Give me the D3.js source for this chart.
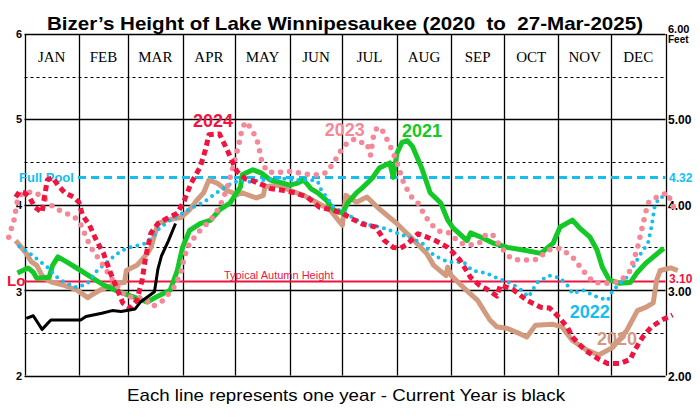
<!DOCTYPE html>
<html><head><meta charset="utf-8">
<script src="https://cdn.jsdelivr.net/npm/d3@7"></script>
<style>
html,body{margin:0;padding:0;background:#fff;}
svg{display:block;}
text{white-space:pre;}
</style></head>
<body>
<svg id="chart" width="700" height="420"></svg>
<script>
// ---- data (day of year, lake height in feet) ----
const monthNames = ["JAN","FEB","MAR","APR","MAY","JUN","JUL","AUG","SEP","OCT","NOV","DEC"];
const monthStartDays = [0,31,59,90,120,151,181,212,243,273,304,334,365];
const leftTicks = [2,3,4,5,6];
const rightTicks = ["2.00","3.00","4.00","5.00","6.00"];
const fullPool = 4.32;
const autumnHeight = 3.10;

const days2020 = [-5,1,4,7,10,13,16,22,30,36,38,43,53,57,58,64,70,72,76,81,89,94,98,102,105,110,115,121,124,132,136,137,144,151,159,167,174,181,183,189,195,201,212,220,229,233,240,241,243,250,258,265,269,275,282,286,291,301,306,312,320,327,335,343,349,354,358,360,362,368,372];
const level2020 = [3.58,3.43,3.33,3.29,3.17,3.12,3.09,3.06,3.00,2.91,2.94,3.00,3.08,3.09,3.23,3.29,3.43,3.50,3.78,3.82,3.85,3.94,4.05,4.14,4.29,4.25,4.17,4.12,4.14,4.08,4.11,4.21,4.23,4.17,4.11,4.02,3.94,3.76,4.11,4.03,4.09,3.97,3.78,3.62,3.43,3.29,3.17,3.27,3.17,3.03,2.88,2.65,2.57,2.55,2.49,2.45,2.59,2.60,2.57,2.41,2.30,2.24,2.33,2.53,2.76,2.80,2.85,3.12,3.23,3.26,3.23];

const days2021 = [-4,2,5,7,14,16,19,24,32,45,54,62,70,75,83,87,90,94,100,106,111,117,123,124,130,135,140,144,151,155,159,163,167,172,176,181,184,189,193,198,202,208,210,212,215,218,221,226,231,237,241,244,252,254,261,267,275,284,294,301,305,312,316,322,326,329,333,339,345,349,354,364];
const level2021 = [3.20,3.26,3.21,3.14,3.15,3.29,3.39,3.33,3.23,3.06,2.98,2.92,2.86,2.92,3.00,3.23,3.50,3.70,3.78,3.82,3.94,4.02,4.21,4.35,4.41,4.37,4.29,4.27,4.23,4.25,4.29,4.19,4.14,4.05,3.94,3.90,4.02,4.14,4.21,4.31,4.43,4.49,4.32,4.60,4.73,4.75,4.68,4.44,4.14,4.02,3.82,3.73,3.58,3.67,3.61,3.55,3.50,3.47,3.43,3.55,3.74,3.82,3.73,3.62,3.47,3.27,3.12,3.08,3.09,3.21,3.32,3.49];

const days2022 = [-3,3,8,13,19,24,30,36,41,47,53,58,68,73,77,83,89,94,102,110,117,123,128,136,146,153,163,167,169,172,176,183,189,197,204,212,220,227,233,241,250,255,263,269,277,283,287,292,299,305,309,312,318,326,332,335,343,351,355,357,359,362,366,369];
const level2022 = [3.51,3.43,3.35,3.27,3.14,3.08,3.03,3.08,3.22,3.33,3.43,3.49,3.54,3.62,3.73,3.82,3.89,3.95,4.03,4.15,4.24,4.29,4.27,4.29,4.31,4.29,4.29,4.27,4.17,4.09,3.97,3.90,3.82,3.76,3.73,3.67,3.61,3.54,3.41,3.33,3.33,3.23,3.20,3.14,3.08,3.00,2.92,3.09,3.17,3.14,3.06,2.96,3.00,2.92,2.88,3.00,3.15,3.43,3.55,3.74,4.00,4.09,4.09,4.08];

const days2023 = [-9,-6,-4,-1,5,10,16,22,28,32,36,39,44,49,54,58,64,69,73,79,85,89,91,94,100,106,111,115,119,122,124,126,128,131,133,135,138,141,146,151,157,163,168,172,176,180,184,188,192,195,197,199,201,204,208,212,216,220,224,227,231,237,242,248,254,259,263,267,271,277,282,292,298,305,312,318,324,331,339,345,349,352,355,360,366,370];
const level2023 = [3.62,3.82,4.05,4.14,4.15,4.10,3.98,3.91,3.87,3.77,3.58,3.46,3.32,3.15,3.02,2.92,2.92,2.89,2.81,2.88,3.03,3.20,3.39,3.55,3.70,3.82,3.97,4.17,4.46,4.70,4.90,4.97,4.92,4.82,4.72,4.52,4.39,4.38,4.38,4.39,4.37,4.35,4.35,4.38,4.49,4.63,4.73,4.77,4.73,4.72,4.58,4.84,4.91,4.86,4.70,4.50,4.25,4.10,4.02,3.91,3.78,3.68,3.67,3.55,3.53,3.55,3.66,3.64,3.51,3.37,3.35,3.36,3.47,3.49,3.39,3.23,3.09,3.08,3.10,3.23,3.49,3.76,4.02,4.09,4.14,3.96];

const days2024 = [-5,-3,0,3,6,10,11,13,16,19,23,28,31,33,37,41,45,49,53,56,60,64,67,69,72,76,81,87,91,95,100,103,105,111,115,118,121,126,130,136,140,147,154,161,168,175,181,187,193,200,205,210,214,218,224,228,234,241,244,248,254,259,265,269,271,278,286,294,299,303,309,312,319,327,332,339,345,347,352,357,363,369];
const level2024 = [4.09,4.15,4.14,4.08,3.97,3.91,4.05,4.29,4.32,4.23,4.14,4.09,4.03,3.88,3.76,3.58,3.43,3.20,3.00,2.85,2.79,2.88,3.12,3.39,3.67,3.78,3.84,3.90,4.05,4.26,4.44,4.64,4.82,4.83,4.66,4.52,4.39,4.30,4.28,4.23,4.19,4.17,4.14,4.09,3.97,3.94,3.90,3.83,3.77,3.74,3.58,3.50,3.49,3.54,3.66,3.63,3.58,3.50,3.44,3.35,3.15,3.06,2.99,2.93,3.06,3.01,2.88,2.80,2.79,2.71,2.57,2.45,2.30,2.19,2.14,2.14,2.19,2.28,2.45,2.57,2.65,2.71];

const days2025 = [1,5,10,15,25,32,35,44,50,55,63,66,70,74,76,78,82,86];
const level2025 = [2.67,2.70,2.54,2.65,2.65,2.65,2.69,2.73,2.76,2.75,2.78,2.86,2.92,2.98,3.25,3.40,3.58,3.78];

const seriesYears = ["2020","2021","2022","2023","2024","2025"];
const seriesDays = [days2020,days2021,days2022,days2023,days2024,days2025];
const seriesLevels = [level2020,level2021,level2022,level2023,level2024,level2025];
const seriesColors = ["#d29a7e","#14c828","#14bef0","#f58898","#f01440","#000000"];
// label anchor: [day of year, level] at the left end of the label's baseline
const seriesLabelPos = [[326,2.36],[215,4.79],[310.5,2.67],[171,4.80],[96,4.91],null];

// ---- chart ----
const svg = d3.select("#chart");
const x = d3.scaleLinear().domain([0,365]).range([24.5,665.5]);
const y = d3.scaleLinear().domain([2,6]).range([375.5,34]);
const x0 = x(0), x1 = x(365);
const sans = "Liberation Sans, Arial, sans-serif";

// title
svg.append("text").attr("x",47).attr("y",30)
  .attr("font-family",sans).attr("font-weight","bold")
  .attr("font-size",19).attr("textLength",596).attr("lengthAdjust","spacingAndGlyphs")
  .text("Bizer\u2019s Height of Lake Winnipesaukee (2020  to  27-Mar-2025)");

// half-foot dashed lines
const g = svg.append("g");
[2.5,3.5,4.5,5.5].forEach(v=>{
  g.append("line").attr("x1",x0).attr("x2",x1).attr("y1",Math.round(y(v))+0.5).attr("y2",Math.round(y(v))+0.5)
   .attr("stroke","#000").attr("stroke-width",1).attr("stroke-dasharray","3,3");
});
// whole foot lines
leftTicks.forEach(v=>{
  g.append("line").attr("x1",x0).attr("x2",x1).attr("y1",Math.round(y(v))+0.5).attr("y2",Math.round(y(v))+0.5)
   .attr("stroke","#000").attr("stroke-width",1.3);
});
// month lines
monthStartDays.forEach(d=>{
  g.append("line").attr("x1",Math.round(x(d))+0.5).attr("x2",Math.round(x(d))+0.5).attr("y1",y(6)).attr("y2",y(2))
   .attr("stroke","#000").attr("stroke-width",1.3);
});
// month names
monthNames.forEach((m,i)=>{
  g.append("text").attr("x",(x(monthStartDays[i])+x(monthStartDays[i+1]))/2).attr("y",62)
   .attr("text-anchor","middle").attr("font-family","Liberation Serif, Times New Roman, serif")
   .attr("font-size",15).text(m);
});
// left axis labels
leftTicks.forEach(v=>{
  g.append("text").attr("x",22).attr("y",(v===3? y(v)+6 : y(v)+4)).attr("text-anchor","end")
   .attr("font-family",sans).attr("font-weight","bold").attr("font-size",11).text(v);
});
// right axis labels
rightTicks.forEach((t,i)=>{
  const v = leftTicks[i];
  g.append("text").attr("x",668).attr("y",(v===6? y(v)-1 : (v===3? y(v)+6 : y(v)+5))).attr("font-family",sans)
   .attr("font-weight","bold").attr("font-size",(v===6?11:12)).text(t);
});
g.append("text").attr("x",668).attr("y",y(6)+9).attr("font-family",sans)
 .attr("font-weight","bold").attr("font-size",10).text("Feet");

// full pool
svg.append("text").attr("x",19).attr("y",y(fullPool)+5).attr("fill","#14bef0")
  .attr("font-family",sans).attr("font-weight","bold").attr("font-size",13).text("Full Pool");
svg.append("line").attr("x1",78).attr("x2",x1).attr("y1",y(fullPool)).attr("y2",y(fullPool))
  .attr("stroke","#14bef0").attr("stroke-width",3).attr("stroke-dasharray","8,5");
svg.append("text").attr("x",669).attr("y",y(fullPool)+5).attr("fill","#14bef0")
  .attr("font-family",sans).attr("font-weight","bold").attr("font-size",12).text(fullPool.toFixed(2));

// typical autumn height
svg.append("line").attr("x1",x0).attr("x2",x1).attr("y1",y(autumnHeight)).attr("y2",y(autumnHeight))
  .attr("stroke","#f01440").attr("stroke-width",2);
svg.append("text").attr("x",7).attr("y",y(autumnHeight)+4).attr("fill","#f01440")
  .attr("font-family",sans).attr("font-weight","bold").attr("font-size",15).text("Lo");
svg.append("text").attr("x",224).attr("y",y(autumnHeight)-3).attr("fill","#f01440")
  .attr("font-family",sans).attr("font-size",11).text("Typical Autumn Height");
svg.append("text").attr("x",669).attr("y",y(autumnHeight)+1).attr("fill","#f01440")
  .attr("font-family",sans).attr("font-weight","bold").attr("font-size",12).text(autumnHeight.toFixed(2));

// series
const line = d3.line().x(d=>x(d[0])).y(d=>y(d[1]));
const styles = [
  {w:5, dash:null, cap:"butt"},
  {w:5, dash:null, cap:"butt"},
  {w:4, dash:"0,7", cap:"round"},
  {w:5.5, dash:"0,9", cap:"round"},
  {w:5, dash:"6,4", cap:"butt"},
  {w:3, dash:null, cap:"butt"}
];
seriesYears.forEach((yr,i)=>{
  const pts = seriesDays[i].map((d,j)=>[d, seriesLevels[i][j]]);
  const p = svg.append("path").attr("d",line(pts)).attr("fill","none")
    .attr("stroke",seriesColors[i]).attr("stroke-width",styles[i].w)
    .attr("stroke-linecap",styles[i].cap).attr("stroke-linejoin","round");
  if(styles[i].dash) p.attr("stroke-dasharray",styles[i].dash);
});
// series labels
seriesYears.forEach((yr,i)=>{
  const lp = seriesLabelPos[i];
  if(!lp) return;
  svg.append("text").attr("x",x(lp[0])).attr("y",y(lp[1])).attr("fill",seriesColors[i])
   .attr("font-family",sans).attr("font-weight","bold").attr("font-size",18).text(yr);
});

// caption
svg.append("text").attr("x",127).attr("y",401)
  .attr("font-family",sans).attr("font-size",17).attr("textLength",438).attr("lengthAdjust","spacingAndGlyphs")
  .text("Each line represents one year - Current Year is black");
</script>
</body></html>
